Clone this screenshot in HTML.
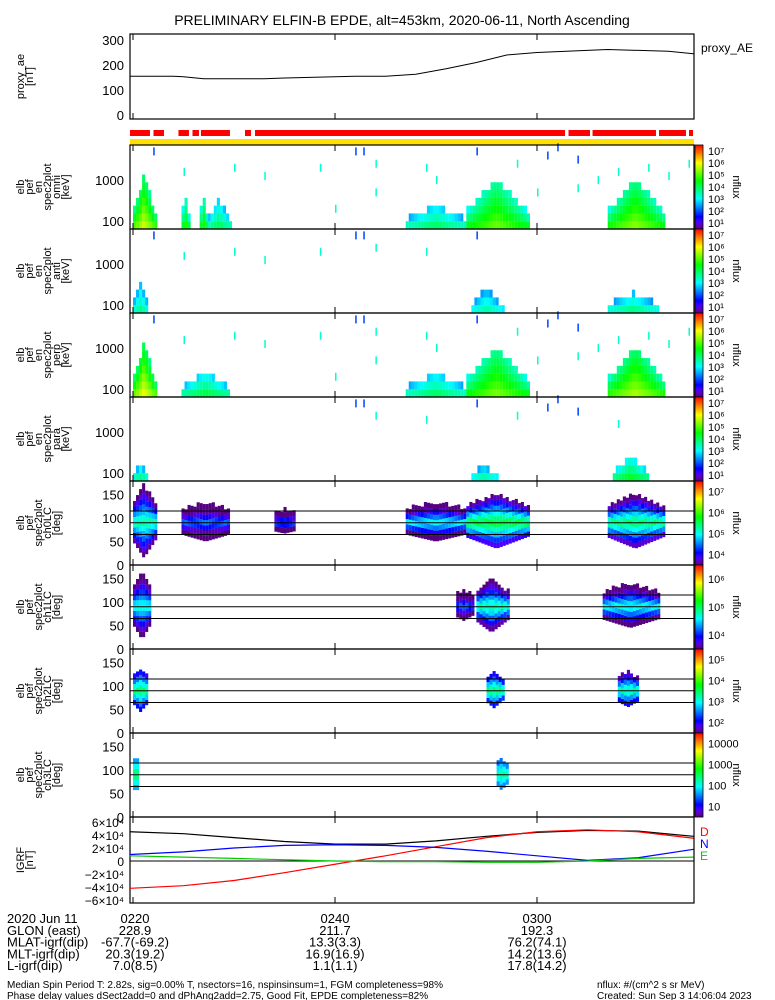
<!DOCTYPE html>
<html><head><meta charset="utf-8"><style>
body{margin:0;background:#fff}
svg{display:block;font-family:"Liberation Sans",sans-serif}
</style></head><body>
<svg id="c" width="775" height="1000" xmlns="http://www.w3.org/2000/svg">
<rect width="775" height="1000" fill="#fff"/>
<text x="402" y="25" font-size="14" text-anchor="middle">PRELIMINARY ELFIN-B EPDE, alt=453km, 2020-06-11, North Ascending</text>
<g id="g"></g>
</svg>
<script>
// ---- data ----
const aeTimes=[-0.3,4,5,7,13,15,22,25,28,31,34,37,40,47,53,55.5];
const aeVals=[155,155,153,145,145,148,155,155,163,185,210,240,250,262,255,245];
const redBarGaps=[[1.68,2.03],[3.07,4.5],[5.54,5.89],[6.53,6.73],[9.6,11.09],[11.68,12.08],[42.77,43.12],[45.25,45.5],[51.78,52.08],[54.75,55.05]];
const omniBlobs=[[0,2.2,1.2,3.0,5.2],[4.8,5.6,0.4,2.5,4.2],[6.6,7.4,0.4,2.6,4.2],[7.4,9.6,1.0,2.4,3.5],[27,33,3,2.3,3.4],[33,39,3,2.95,4.6],[47,52.5,2.7,2.95,4.8]];
const antBlobs=[[0,1.5,0.7,2.4,3.2],[33.5,36.5,1.5,2.3,3.0],[47,52,2,2.2,3.2]];
const perpBlobs=[[0,2.2,1.2,3.0,5.4],[4.8,9.6,1,2.3,3.6],[27,33,3,2.3,3.4],[33,39,3,2.95,4.7],[47,52.5,2.7,2.95,5.0]];
const paraBlobs=[[0,1.5,0.7,2.1,3.2],[33.5,36,1.2,2.1,3.0],[47.5,51,1.7,2.3,3.8]];
const omniSpecks=[[2,3.6],[5,3.1],[10,3.2],[13,3.0],[18.5,3.2],[22,3.6],[22.8,3.6],[24,3.3],[29,3.2],[34,3.6],[38,3.3],[41,3.5],[42,3.7],[44,3.4],[48,3.1],[51,3.2],[55,3.3],[20,2.2],[24,2.6],[30,2.9],[40,2.6],[44,2.7],[46,2.9],[53,3.0]];
const ch0Blobs=[[0,2.2,60,4.8],[4.8,9.6,25,4.0],[14,16,8,4.0],[27,33,25,4.5],[33,39,40,5.2],[47,52.5,40,5.0]];
const ch1Blobs=[[0,1.8,55,4.6],[32,33.5,15,4.0],[34,37,40,4.8],[46.5,52,30,4.6]];
const ch2Blobs=[[0,1.5,30,4.0],[35,36.5,22,4.0],[48,50,20,3.8]];
const ch3Blobs=[[0,0.6,25,2.5],[36,37,18,2.3]];
const paLines=[115,90,65];
const igrfT=[-0.3,5,10,15,20,25,30,35,40,45,50,55.5];
const igrfTot=[45,42,36,30,26,26,31,38,44,47,46,38];
const igrfD=[-42,-38,-30,-18,-5,8,22,36,45,48,45,35];
const igrfN=[10,14,20,24,25,24,21,15,8,1,5,18];
const igrfE=[8,6,4,2,0,-1,-1,-2,-2,0,4,6];
const tickMin=[0,20,40];
const tickLab=["0220","0240","0300"];
// ---- scales ----
const X0=130,X1=694;
const xs=t=>133+t*10.1;
const G=document.getElementById('g');
const NS="http://www.w3.org/2000/svg";
function el(tag,a,parent){const e=document.createElementNS(NS,tag);for(const k in a)e.setAttribute(k,a[k]);(parent||G).appendChild(e);return e;}
function cmap(n){n=Math.max(0,Math.min(1,n));const h=(1-n)*280;const l=n<0.08?25+n*300:50;return `hsl(${h},100%,${l}%)`;}
function txt(x,y,s,a,name,fs){const t=el('text',Object.assign({x:x,y:y,'font-size':fs||12},a||{}));t.textContent=s;

return t;}
function frame(y0,h,name){const r=el('rect',{x:X0,y:y0,width:X1-X0,height:h,fill:'none',stroke:'#000','stroke-width':1.2});


for(const m of tickMin){el('line',{x1:xs(m),x2:xs(m),y1:y0+h,y2:y0+h-6,stroke:'#000'});el('line',{x1:xs(m),x2:xs(m),y1:y0,y2:y0+6,stroke:'#000'});}}
function ylabel(y0,h,lines,name){const cx=(y0+h/2);lines.forEach((s,i)=>{const x=24+i*9;const t=txt(0,0,s,{transform:`translate(${x},${cx}) rotate(-90)`,'text-anchor':'middle'},name+'-line',11);});}
function colorbar(y0,h,labels,name){for(let i=0;i<h;i++){el('rect',{x:695,y:y0+h-i-1,width:8,height:1.2,fill:cmap(i/h)});}
const r=el('rect',{x:695,y:y0,width:8,height:h,fill:'none',stroke:'#000','stroke-width':0.8});


labels.forEach((s,i)=>{const y=y0+h-(i+0.5)*h/labels.length+4;const t=txt(708,y,s,{},name+'-label',11);});
txt(0,0,'nflux',{transform:`translate(733,${y0+h/2}) rotate(90)`,'text-anchor':'middle'},name+'-title',11);}
// ---- proxy_AE ----
const aY=v=>115-v*0.25;
frame(34,85,'proxy-ae-panel');
[0,100,200,300].forEach(v=>txt(124,aY(v)+5,String(v),{'text-anchor':'end'},'ae-y-tick',13));
ylabel(34,85,['proxy_ae','[nT]'],'ae-y-title');
{let d='';aeTimes.forEach((t,i)=>{d+=(i?'L':'M')+xs(t)+','+aY(aeVals[i]);});
const p=el('path',{d:d,fill:'none',stroke:'#000','stroke-width':1});

}
txt(701,52,'proxy_AE',{},'ae-legend',12);
// ---- red / yellow bars ----
{const r=el('rect',{x:X0,y:130,width:X1-X0-1,height:6,fill:'#f00'});


redBarGaps.forEach(g=>el('rect',{x:xs(g[0]),y:129,width:xs(g[1])-xs(g[0]),height:8,fill:'#fff'}));
const y=el('rect',{x:X0,y:139,width:X1-X0,height:6,fill:'#ffe000'});

}
// ---- energy spectrograms ----
function espec(y0,blobs,specks,title,cbl){const h=84;const eY=le=>y0+h-(le-1.8)*41;
const grp=el('g',{});


blobs.forEach(b=>{const [t0,t1,pk,top,mx]=b;const c=(t0+t1)/2,hw=(t1-t0)/2;
for(let t=t0;t<t1;t+=0.3){const f=1-Math.abs(t+0.15-c)/hw*0.7;const tp=1.8+(top-1.8)*f;
for(let le=1.8;le<tp;le+=0.19){const v=mx*(1-0.35*(le-1.8)/(tp-1.8+0.01))*(0.75+0.25*f);
el('rect',{x:xs(t),y:eY(le+0.19),width:3.1,height:7.9,fill:cmap(v/7)},grp);}}});
specks.forEach(s=>el('rect',{x:xs(s[0]),y:eY(s[1]+0.19),width:1.5,height:8,fill:cmap(s[1]>3.3?0.2:0.4)},grp));
frame(y0,h,title+'-panel');
[[100,2],[1000,3]].forEach(v=>txt(124,eY(v[1])+5,String(v[0]),{'text-anchor':'end'},'energy-y-tick',13));
ylabel(y0,h,['elb','pef','en','spec2plot',title,'[keV]'],title+'-y-title');
colorbar(y0,h,cbl,title+'-colorbar');}
const cb7=['10¹','10²','10³','10⁴','10⁵','10⁶','10⁷'];
espec(145,omniBlobs,omniSpecks,'omni',cb7);
espec(229,antBlobs,omniSpecks.slice(0,10),'anti',cb7);
espec(313,perpBlobs,omniSpecks,'perp',cb7);
espec(397,paraBlobs,omniSpecks.slice(5,15),'para',cb7);
// ---- pitch-angle spectrograms ----
function paspec(y0,blobs,title,cbl,step){const h=84;const pY=d=>y0+h-d*0.47;
const grp=el('g',{});


blobs.forEach(b=>{const [t0,t1,ext,mx]=b;const c=(t0+t1)/2,hw=(t1-t0)/2;
for(let t=t0;t<t1;t+=0.3){const f=1-Math.abs(t+0.15-c)/hw*0.6;const e=ext*f+15;
for(let d=90-e;d<90+e;d+=11.25){const v=mx*(1-0.4*Math.abs(d+5-90)/e);
el('rect',{x:xs(t),y:pY(d+11.25),width:3.1,height:5.4,fill:cmap((v-step)/4)},grp);}}});
frame(y0,h,title+'-panel');
paLines.forEach((d,i)=>{const l=el('line',{x1:X0,x2:X1,y1:pY(d),y2:pY(d),stroke:'#000','stroke-width':1});

});
[0,50,100,150].forEach(v=>txt(124,pY(v)+5,String(v),{'text-anchor':'end'},'pa-y-tick',13));
ylabel(y0,h,['elb','pef','spec2plot',title,'[deg]'],title+'-y-title');
colorbar(y0,h,cbl,title+'-colorbar');}
paspec(481,ch0Blobs,'ch0LC',['10⁴','10⁵','10⁶','10⁷'],3);
paspec(565,ch1Blobs,'ch1LC',['10⁴','10⁵','10⁶'],3);
paspec(649,ch2Blobs,'ch2LC',['10²','10³','10⁴','10⁵'],2);
paspec(733,ch3Blobs,'ch3LC',['10','100','1000','10000'],0.5);
// ---- IGRF ----
const iY=v=>861-v*0.65;
frame(817,86,'igrf-panel');
el('line',{x1:X0,x2:X1,y1:iY(0),y2:iY(0),stroke:'#000'});
[[6,'6×10⁴'],[4,'4×10⁴'],[2,'2×10⁴'],[0,'0'],[-2,'−2×10⁴'],[-4,'−4×10⁴'],[-6,'−6×10⁴']].forEach(v=>txt(124,iY(v[0]*10)+5,v[1],{'text-anchor':'end'},'igrf-y-tick',12));
ylabel(817,86,['IGRF','[nT]'],'igrf-y-title');
[[igrfTot,'#000','igrf-total'],[igrfD,'#f00','igrf-d'],[igrfN,'#00f','igrf-n'],[igrfE,'#0c0','igrf-e']].forEach(s=>{let d='';igrfT.forEach((t,i)=>{d+=(i?'L':'M')+xs(t)+','+iY(s[0][i]);});
const p=el('path',{d:d,fill:'none',stroke:s[1],'stroke-width':1.2});

});
txt(700,836,'D',{fill:'#f00'},'legend-d',12);txt(700,848,'N',{fill:'#00f'},'legend-n',12);txt(700,860,'E',{fill:'#0c0'},'legend-e',12);
// ---- bottom annotations ----
const rows=[['2020 Jun 11','0220','0240','0300'],['GLON (east)','228.9','211.7','192.3'],['MLAT-igrf(dip)','-67.7(-69.2)','13.3(3.3)','76.2(74.1)'],['MLT-igrf(dip)','20.3(19.2)','16.9(16.9)','14.2(13.6)'],['L-igrf(dip)','7.0(8.5)','1.1(1.1)','17.8(14.2)']];
rows.forEach((r,i)=>{const y=923+i*11.8;txt(7,y,r[0],{},'annot-row-label',13);
tickLab.forEach((_,j)=>txt(xs(tickMin[j])+(j==0?2:0),y,r[j+1],{'text-anchor':'middle'},'annot-value',13));});
txt(7,988,'Median Spin Period T: 2.82s, sig=0.00% T, nsectors=16, nspinsinsum=1, FGM completeness=98%',{},'footer-line-1',10);
txt(7,999,'Phase delay values dSect2add=0 and dPhAng2add=2.75, Good Fit, EPDE completeness=82%',{},'footer-line-2',10);
txt(597,988,'nflux: #/(cm^2 s sr MeV)',{},'footer-units',10);
txt(597,999,'Created: Sun Sep  3 14:06:04 2023',{},'footer-created',10);
</script>
</body></html>
